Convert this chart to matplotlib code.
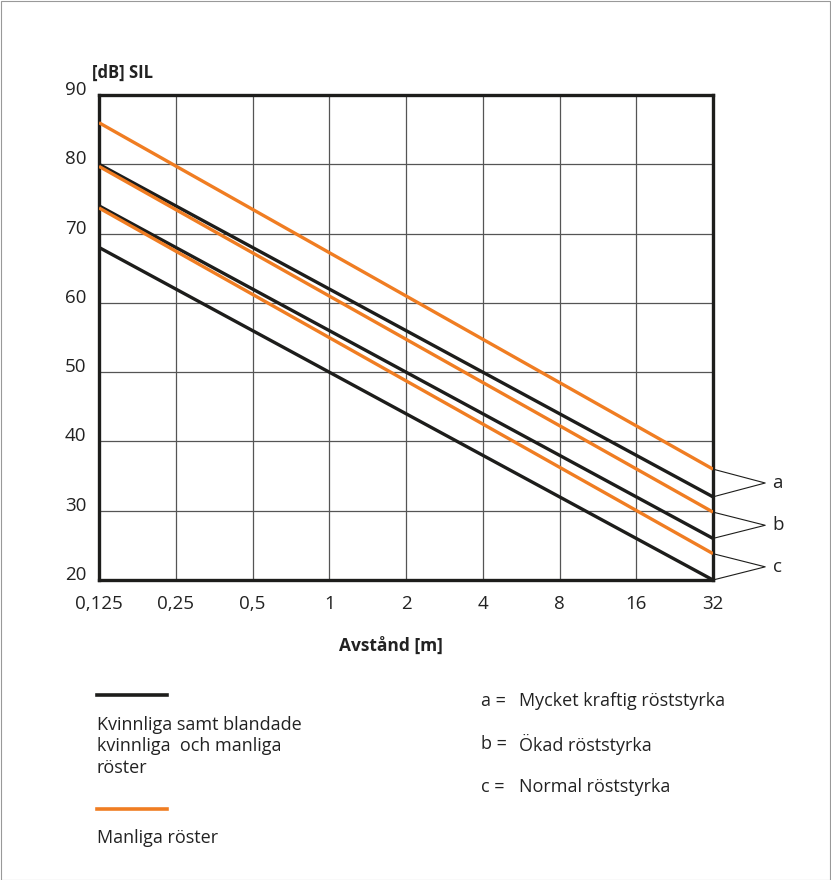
import matplotlib.pyplot as plt
from matplotlib.transforms import blended_transform_factory
from matplotlib.patches import Rectangle

plt.rcParams['font.family'] = ['Open Sans', 'DejaVu Sans']

# distances (m) and tick labels
dist = [0.125, 0.25, 0.5, 1, 2, 4, 8, 16, 32]
dist_labels = ['0,125', '0,25', '0,5', '1', '2', '4', '8', '16', '32']
db_ticks = [20, 30, 40, 50, 60, 70, 80, 90]

# SIL at 0.125 m and 32 m
black_a = [80, 32]
black_b = [74, 26]
black_c = [68, 20]
orange_a = [86, 36]
orange_b = [79.7, 29.8]
orange_c = [73.7, 23.8]

groups = ['a', 'b', 'c']
group_text = ['Mycket kraftig röststyrka', 'Ökad röststyrka', 'Normal röststyrka']

BLACK = '#1d1d1b'
ORANGE = '#f07d22'
TXT = '#222222'

fig = plt.figure(figsize=(8.31, 8.8), dpi=100)
ax = fig.add_axes([99/831, 1-580/880, 614/831, 485/880])

ends = [dist[0], dist[-1]]
for vals in [black_a, black_b, black_c]:
    ax.plot(ends, vals, color=BLACK, lw=2.4, solid_capstyle='butt', zorder=3)
for vals in [orange_a, orange_b, orange_c]:
    ax.plot(ends, vals, color=ORANGE, lw=2.4, solid_capstyle='butt', zorder=3)

ax.set_xscale('log', base=2)
ax.set_xlim(dist[0], dist[-1])
ax.set_ylim(20, 90)
ax.set_xticks(dist)
ax.set_xticklabels(dist_labels)
ax.minorticks_off()
ax.set_yticks(db_ticks)
ax.tick_params(length=0, labelsize=13.5, colors=TXT)
ax.tick_params(axis='x', pad=11)
ax.tick_params(axis='y', pad=9)
for lab in ax.get_yticklabels():
    lab.set_verticalalignment('baseline')
ax.grid(True, color='#555555', lw=0.9)
for s in ax.spines.values():
    s.set_linewidth(2.4)
    s.set_color(BLACK)

# bracket labels at right
tr = blended_transform_factory(ax.transAxes, ax.transData)
pairs = [(orange_a, black_a), (orange_b, black_b), (orange_c, black_c)]
for g, (o, b) in zip(groups, pairs):
    mid = (o[1] + b[1]) / 2
    ax.plot([1.0, 1.085, 1.0], [o[1], mid, b[1]], color=BLACK, lw=0.8,
            transform=tr, clip_on=False)
    ax.text(1.097, mid, g, transform=tr, fontsize=13.5, va='center', ha='left',
            color=TXT)

fig.text(92/831, 1-73/880, '[dB] SIL', fontsize=12, fontweight='bold', va='center',
         ha='left', color=TXT)
fig.text(391/831, 1-646/880, 'Avstånd [m]', fontsize=12.5, fontweight='bold',
         va='center', ha='center', color=TXT)

# legend at bottom
fig.add_artist(plt.Line2D([97/831, 167/831], [1-695/880, 1-695/880], color=BLACK, lw=2.6))
fig.text(97/831, 1-746/880, 'Kvinnliga samt blandade\nkvinnliga  och manliga\nröster',
         fontsize=13, va='center', ha='left', linespacing=1.25, color=TXT)
fig.add_artist(plt.Line2D([97/831, 167/831], [1-809/880, 1-809/880], color=ORANGE, lw=2.6))
fig.text(97/831, 1-838/880, 'Manliga röster', fontsize=13, va='center', ha='left',
         color=TXT)

for i, (g, t) in enumerate(zip(groups, group_text)):
    y = 1 - (701 + i * 43) / 880
    fig.text(481/831, y, g + ' =', fontsize=13, va='center', ha='left', color=TXT)
    fig.text(519/831, y, t, fontsize=13, va='center', ha='left', color=TXT)

fig.add_artist(Rectangle((0.5/831, 0.5/880), 829/831, 878/880, transform=fig.transFigure,
                         fill=False, ec='#999999', lw=0.8))

fig.savefig('out.png', dpi=100)
